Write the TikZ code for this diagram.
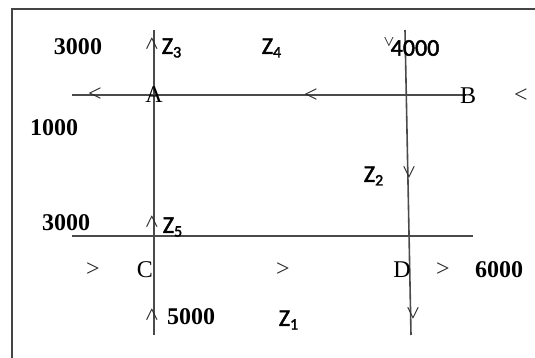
\documentclass[tikz,border=0pt]{standalone}
\usepackage{fontspec}
\setmainfont{Liberation Serif}
\newfontfamily\zfont{Carlito}[FakeBold=2]
\usepackage{tikz}
\usetikzlibrary{positioning}
\definecolor{pline}{HTML}{4A4A4A}
\definecolor{pframe}{HTML}{444444}
\tikzset{
  % thin street lines and the page frame
  road/.style  = {line width=0.8pt, draw=pline},
  frame/.style = {line width=1pt, draw=pframe},
  % serif labels: junctions and volumes
  jn/.style    = {font=\fontsize{12}{12}\selectfont, inner sep=0pt},
  vol/.style   = {font=\fontsize{12}{12}\selectfont\bfseries, inner sep=0pt},
  % sans labels for the unknown flows
  zl/.style    = {font=\fontsize{12}{12}\selectfont\zfont, inner sep=0pt},
  chev/.style  = {font=\fontsize{12}{12}\selectfont, text=black!85, inner sep=0pt},
}
\newcommand{\zz}[1]{Z\textsubscript{#1}}

\begin{document}
\begin{tikzpicture}[x=0.5pt, y=-0.5pt]
\useasboundingbox (0,0) rectangle (535,358);
% --- frame (top and left edge only) -----------------------------------
\draw[frame] (535,9) -- (12,9) -- (12,358);

% --- street end points ------------------------------------------------
\coordinate (actop) at (154,30);
\coordinate (acbot) at (154,335);
\coordinate (bdtop) at (405,30);
\coordinate (bdbot) at (411,335);
\coordinate (upw)   at (72,95);
\coordinate (upe)   at (466,95);
\coordinate (low)   at (72,236);
\coordinate (loe)   at (473,236);

\draw[road] (actop) -- (acbot);
\draw[road] (bdtop) -- (bdbot);
\draw[road] (upw) -- (upe);
\draw[road] (low) -- (loe);

% --- junctions --------------------------------------------------------
\node[jn] (A) at (154,95)  {A};
\node[jn] (B) at (468,96)  {B};
\node[jn] (C) at (145,270) {C};
\node[jn] (D) at (402,270) {D};

% --- volumes ----------------------------------------------------------
\node[vol] (v3a) at (78,47)   {3000};
\node[vol] (v1)  at (54,128)  {1000};
\node[vol] (v3b) at (66,223)  {3000};
\node[vol] (v5)  at (191,317) {5000};
\node[vol] (v6)  at (499,270) {6000};
\node[zl]  (v4)  at (415,48)  {4000};

% --- unknown flows ----------------------------------------------------
\node[zl] (z1) at (289,320) {\zz{1}};
\node[zl] (z2) at (374,176) {\zz{2}};
\node[zl] (z3) at (172,48)  {\zz{3}};
\node[zl] (z4) at (272,48)  {\zz{4}};
\node[zl] (z5) at (173,227) {\zz{5}};

% --- direction marks --------------------------------------------------
\foreach \x/\y in {95/95, 311/96, 521/96} {\node[chev] at (\x,\y) {<};}
\foreach \x/\y in {93/270, 283/270, 443/270} {\node[chev] at (\x,\y) {>};}
\foreach \x/\y in {153/44, 153/222, 153/315} {\node[chev, rotate=90] at (\x,\y) {>};}
\foreach \x/\y in {408/172, 412/313} {\node[chev, rotate=-90] at (\x,\y) {>};}
\node[chev, rotate=-90, scale=0.8] at (388,42) {>};
\end{tikzpicture}
\end{document}
